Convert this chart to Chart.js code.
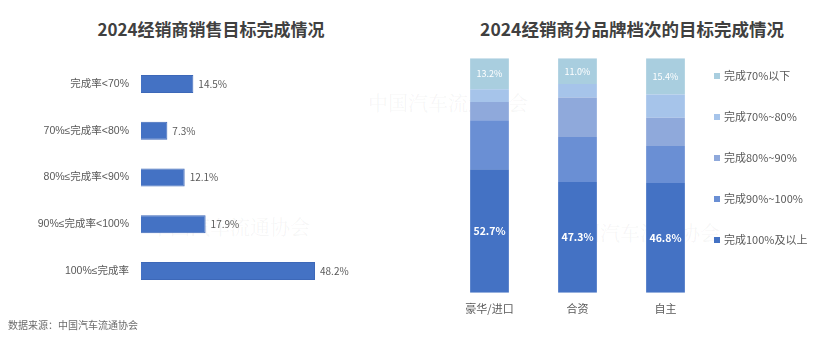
<!DOCTYPE html>
<html lang="zh-CN">
<head>
<meta charset="utf-8">
<title>2024经销商目标完成情况</title>
<script src="https://cdn.jsdelivr.net/npm/chart.js@4.4.1/dist/chart.umd.min.js"></script>
<style>
  html, body { margin: 0; padding: 0; background: #fff; }
  body { width: 820px; height: 344px; position: relative; overflow: hidden;
         font-family: "Noto Sans CJK SC", "Noto Sans", sans-serif; }
  canvas { position: absolute; top: 0; }
  #salesChart { left: 0; }
  #brandChart { left: 420px; }
  .title { position: absolute; top: 16px; font-size: 17px; font-weight: bold; color: #404040;
           white-space: nowrap; transform: translateX(-50%); }
  .source { position: absolute; left: 8px; top: 317px; font-size: 10px; color: #6b6b6b; }
  .mark { position: absolute; font-family: "Noto Serif CJK SC", "DejaVu Serif", serif; font-size: 20px;
          color: rgba(120, 120, 120, 0.07); white-space: nowrap; }
  #legend { position: absolute; left: 714px; top: 67px; margin: 0; padding: 0; list-style: none; }
  #legend li { height: 41px; font-size: 11px; color: #595959; white-space: nowrap; line-height: 16px; }
  #legend span { display: inline-block; width: 6px; height: 6px; margin-right: 4px; vertical-align: 1px; }
</style>
</head>
<body>
<div class="mark" style="left:368px; top:88px;">中国汽车流通协会</div>
<div class="mark" style="left:150px; top:212px;">中国汽车流通协会</div>
<div class="mark" style="left:560px; top:218px;">中国汽车流通协会</div>

<div class="title" style="left:211px;">2024经销商销售目标完成情况</div>
<div class="title" style="left:632px; font-size:17.5px;">2024经销商分品牌档次的目标完成情况</div>

<canvas id="salesChart" width="420" height="344"></canvas>
<canvas id="brandChart" width="400" height="344"></canvas>
<ul id="legend"></ul>

<div class="source">数据来源：中国汽车流通协会</div>

<script>
// 经销商销售目标完成率分布
const rateLabels = ['完成率<70%', '70%≤完成率<80%', '80%≤完成率<90%', '90%≤完成率<100%', '100%≤完成率'];
const rateShares = [14.5, 7.3, 12.1, 17.9, 48.2];

// 分品牌档次
const brandTiers = ['豪华/进口', '合资', '自主'];
const done100 = [52.7, 47.3, 46.8];
const done90to100 = [20.9, 19.1, 15.8];
const done80to90 = [7.8, 16.9, 12.1];
const done70to80 = [5.4, 5.7, 9.9];
const doneBelow70 = [13.2, 11.0, 15.4];

const FONT = '"Noto Sans CJK SC", "Noto Sans", sans-serif';
// latin first so that ≤ and digits stay narrow
const TICK_FONT = '"Liberation Sans", "Noto Sans CJK SC", sans-serif';
const BLUE = '#4472C4';

// draws "x.x%" next to / inside the bars of datasets that carry a valueFont
const valueLabels = {
    id: 'valueLabels',
    afterDatasetsDraw(chart, args, opts) {
        const ctx = chart.ctx;
        chart.data.datasets.forEach((ds, i) => {
            if (!ds.valueFont) return;
            const meta = chart.getDatasetMeta(i);
            meta.data.forEach((bar, j) => {
                const text = ds.data[j].toFixed(1) + '%';
                ctx.save();
                ctx.font = ds.valueFont;
                ctx.fillStyle = ds.valueColor;
                ctx.textBaseline = 'middle';
                if (opts.inside) {
                    ctx.textAlign = 'center';
                    ctx.fillText(text, bar.x, (bar.y + bar.base) / 2);
                } else {
                    ctx.textAlign = 'left';
                    ctx.fillText(text, bar.x + 5, bar.y);
                }
                ctx.restore();
            });
        });
    }
};

new Chart(document.getElementById('salesChart'), {
    type: 'bar',
    data: {
        labels: rateLabels,
        datasets: [{
            data: rateShares,
            backgroundColor: BLUE,
            borderColor: '#3d68b8',
            borderWidth: 1,
            categoryPercentage: 1,
            barPercentage: 0.385,
            valueFont: `10px ${FONT}`,
            valueColor: '#595959',
        }]
    },
    options: {
        indexAxis: 'y',
        responsive: false,
        animation: false,
        layout: { padding: { top: 60.6, bottom: 49.6, left: 0, right: 62.4 } },
        plugins: {
            legend: { display: false },
            tooltip: { enabled: false },
            valueLabels: { inside: false },
        },
        scales: {
            x: { display: false, min: 0, max: 60 },
            y: {
                grid: { display: false, drawTicks: false },
                border: { display: false },
                ticks: { padding: 12, color: '#595959', font: { family: TICK_FONT, size: 10.5 } },
                afterFit: (axis) => { axis.width = 141; },
            },
        },
    },
    plugins: [valueLabels],
});

const tierSeries = [
    { label: '完成100%及以上', data: done100, backgroundColor: '#4472C4',
      valueFont: `bold 10.5px ${FONT}`, valueColor: '#ffffff' },
    { label: '完成90%~100%', data: done90to100, backgroundColor: '#6A8FD4' },
    { label: '完成80%~90%', data: done80to90, backgroundColor: '#8FA9DB' },
    { label: '完成70%~80%', data: done70to80, backgroundColor: '#A6C4EA' },
    { label: '完成70%以下', data: doneBelow70, backgroundColor: '#A9CEDF',
      valueFont: `9px ${FONT}`, valueColor: '#ffffff' },
];

const brandChart = new Chart(document.getElementById('brandChart'), {
    type: 'bar',
    data: {
        labels: brandTiers,
        datasets: tierSeries.map(s => ({ ...s, categoryPercentage: 1, barPercentage: 0.44 })),
    },
    options: {
        responsive: false,
        animation: false,
        layout: { padding: { top: 58.3, bottom: 20, left: 25.5, right: 110.5 } },
        plugins: {
            legend: { display: false },
            tooltip: { enabled: false },
            valueLabels: { inside: true },
        },
        scales: {
            x: {
                stacked: true,
                grid: { display: false, drawTicks: false },
                border: { display: false },
                ticks: { padding: 9, color: '#595959', font: { family: FONT, size: 11 } },
            },
            y: { stacked: true, display: false, min: 0, max: 100 },
        },
    },
    plugins: [valueLabels],
});

// legend list, top item = top segment of the stack
const legendEl = document.getElementById('legend');
brandChart.data.datasets.slice().reverse().forEach(ds => {
    const li = document.createElement('li');
    const box = document.createElement('span');
    box.style.background = ds.backgroundColor;
    li.appendChild(box);
    li.appendChild(document.createTextNode(ds.label));
    legendEl.appendChild(li);
});
</script>
</body>
</html>
